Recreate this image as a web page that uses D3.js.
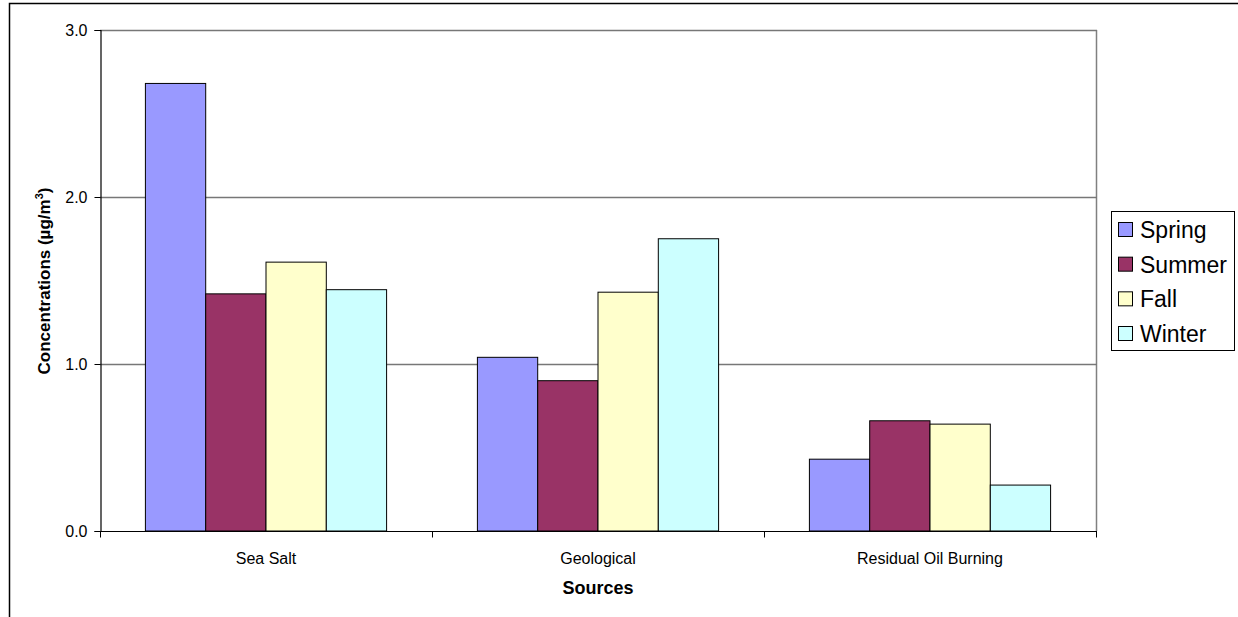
<!DOCTYPE html>
<html>
<head>
<meta charset="utf-8">
<script src="https://cdn.jsdelivr.net/npm/d3@7"></script>
<style>
  html, body { margin: 0; padding: 0; background: #fff; }
  svg { display: block; font-family: Arial, "Liberation Sans", sans-serif; }
</style>
</head>
<body>
<svg id="chart" width="1238" height="617"></svg>
<script>
const categories = ["Sea Salt", "Geological", "Residual Oil Burning"];
const seriesNames = ["Spring", "Summer", "Fall", "Winter"];
const spring = [2.68, 1.04, 0.43];
const summer = [1.42, 0.90, 0.66];
const fall   = [1.61, 1.43, 0.64];
const winter = [1.445, 1.75, 0.275];
const seriesColors = ["#9999FF", "#993366", "#FFFFCC", "#CCFFFF"];
const yTicks = [0, 1, 2, 3];
const yTickLabels = ["0.0", "1.0", "2.0", "3.0"];

const seriesValues = [spring, summer, fall, winter];

const svg = d3.select("#chart");
const plot = { left: 100, right: 1096, top: 30, bottom: 531 };

// outer frame
svg.append("rect")
  .attr("x", 9.5).attr("y", 3.5)
  .attr("width", 1300).attr("height", 700)
  .attr("fill", "none").attr("stroke", "#000").attr("stroke-width", 1.5);

const y = d3.scaleLinear().domain([0, 3]).range([plot.bottom, plot.top]);
const x0 = d3.scaleBand().domain(categories).range([plot.left, plot.right]).paddingInner(0).paddingOuter(0);
const x1 = d3.scaleBand().domain(seriesNames).range([0, x0.bandwidth()]).paddingInner(0).paddingOuter(0.753);

// plot border (gray) right side
svg.append("line")
  .attr("x1", plot.right + 0.5).attr("x2", plot.right + 0.5)
  .attr("y1", plot.top).attr("y2", plot.bottom)
  .attr("stroke", "#808080").attr("stroke-width", 1.5);

// gridlines
svg.append("g").selectAll("line")
  .data(yTicks.filter(d => d > 0))
  .join("line")
  .attr("x1", plot.left).attr("x2", plot.right + 1)
  .attr("y1", d => Math.round(y(d)) + 0.5).attr("y2", d => Math.round(y(d)) + 0.5)
  .attr("stroke", "#777").attr("stroke-width", 1.5);

// bars
const bars = [];
categories.forEach((c, ci) => {
  seriesNames.forEach((s, si) => {
    bars.push({ cat: c, series: s, si, value: seriesValues[si][ci] });
  });
});
svg.append("g").selectAll("rect")
  .data(bars)
  .join("rect")
  .attr("x", d => x0(d.cat) + x1(d.series))
  .attr("y", d => y(d.value))
  .attr("width", x1.bandwidth())
  .attr("height", d => y(0) - y(d.value))
  .attr("fill", d => seriesColors[d.si])
  .attr("stroke", "#000").attr("stroke-width", 1);

// y axis
const yAxis = d3.axisLeft(y).tickValues(yTicks)
  .tickFormat((d, i) => yTickLabels[i]).tickSize(6).tickPadding(7);
const gy = svg.append("g").attr("transform", `translate(${plot.left + 0.5},0)`).call(yAxis);
gy.select(".domain").attr("stroke", "#000").attr("stroke-width", 1.2);
gy.selectAll(".tick line").attr("stroke", "#000");
gy.selectAll(".tick text").attr("font-size", 16).attr("fill", "#000")
  .attr("font-family", "Arial, 'Liberation Sans', sans-serif");

// x axis
const gx = svg.append("g").attr("transform", `translate(0,${plot.bottom + 0.5})`);
gx.append("line")
  .attr("x1", plot.left).attr("x2", plot.right + 1)
  .attr("y1", 0).attr("y2", 0)
  .attr("stroke", "#000").attr("stroke-width", 1.2);
const boundaries = categories.map(c => x0(c)).concat([x0(categories[categories.length - 1]) + x0.bandwidth()]);
gx.selectAll("line.tk")
  .data(boundaries)
  .join("line").attr("class", "tk")
  .attr("x1", d => Math.round(d) + 0.5).attr("x2", d => Math.round(d) + 0.5)
  .attr("y1", 0).attr("y2", 6)
  .attr("stroke", "#000");
gx.selectAll("text")
  .data(categories)
  .join("text")
  .attr("x", d => x0(d) + x0.bandwidth() / 2)
  .attr("y", 32)
  .attr("text-anchor", "middle")
  .attr("font-size", 16)
  .attr("fill", "#000")
  .text(d => d);

// axis titles
svg.append("text")
  .attr("x", (plot.left + plot.right) / 2)
  .attr("y", 594)
  .attr("text-anchor", "middle")
  .attr("font-size", 18).attr("font-weight", "bold")
  .text("Sources");

const yt = svg.append("text")
  .attr("transform", "translate(50,281) rotate(-90)")
  .attr("text-anchor", "middle")
  .attr("font-size", 17).attr("font-weight", "bold");
yt.append("tspan").text("Concentrations (µg/m");
yt.append("tspan").attr("font-size", 11).attr("dy", -7).text("3");
yt.append("tspan").attr("dy", 7).text(")");

// legend
const lg = svg.append("g");
lg.append("rect")
  .attr("x", 1111.5).attr("y", 211.5)
  .attr("width", 123).attr("height", 139)
  .attr("fill", "#fff").attr("stroke", "#000").attr("stroke-width", 1);
const rowY = d3.scalePoint().domain(seriesNames).range([230, 334]);
const rows = lg.selectAll("g.row").data(seriesNames).join("g").attr("class", "row");
rows.append("rect")
  .attr("x", 1118.5).attr("y", d => rowY(d) - 7.5)
  .attr("width", 14).attr("height", 14)
  .attr("fill", (d, i) => seriesColors[i])
  .attr("stroke", "#000").attr("stroke-width", 1);
rows.append("text")
  .attr("x", 1140).attr("y", d => rowY(d) + 8)
  .attr("font-size", 23).attr("fill", "#000")
  .text(d => d);
</script>
</body>
</html>
